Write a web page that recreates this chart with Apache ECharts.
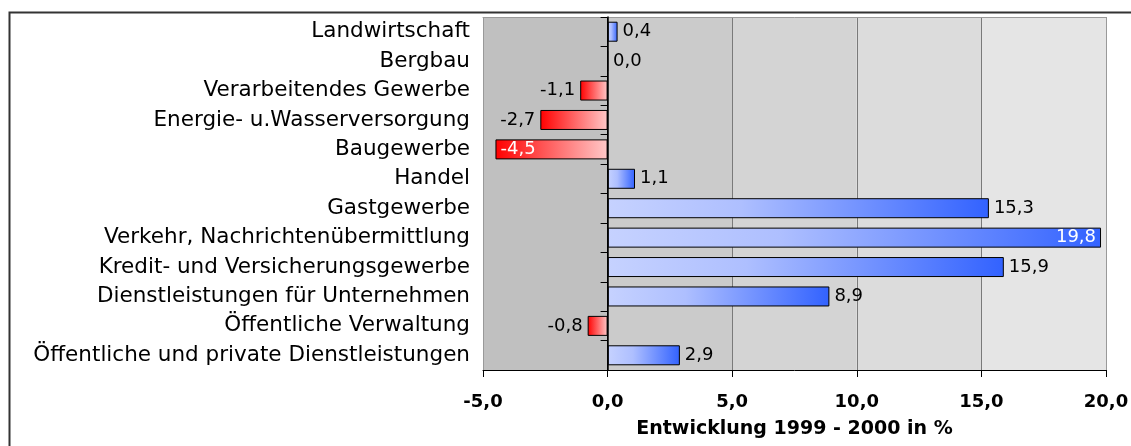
<!DOCTYPE html>
<html lang="de">
<head>
    <meta charset="UTF-8">
    <title>Entwicklung 1999 - 2000</title>
    <script src="https://cdn.jsdelivr.net/npm/echarts@6/dist/echarts.min.js"></script>
    <style>
        html, body { margin: 0; padding: 0; background: #fff; }
        #chart { width: 1131px; height: 446px; }
    </style>
</head>
<body>
<div id="chart"></div>
<script>
    // Branchen von oben nach unten
    var branchen = [
        "Landwirtschaft",
        "Bergbau",
        "Verarbeitendes Gewerbe",
        "Energie- u.Wasserversorgung",
        "Baugewerbe",
        "Handel",
        "Gastgewerbe",
        "Verkehr, Nachrichtenübermittlung",
        "Kredit- und Versicherungsgewerbe",
        "Dienstleistungen für Unternehmen",
        "Öffentliche Verwaltung",
        "Öffentliche und private Dienstleistungen"
    ];
    var werte = [0.4, 0.0, -1.1, -2.7, -4.5, 1.1, 15.3, 19.8, 15.9, 8.9, -0.8, 2.9];

    var achseMin = -5;
    var achseMax = 20;
    var achseSchritt = 5;

    function komma(v) {
        return Number(v).toFixed(1).replace('.', ',');
    }

    // graue Bänder, links dunkler
    var bandFarben = ['#c0c0c0', '#cbcbcb', '#d4d4d4', '#dcdcdc', '#e5e5e5'];
    var baender = [];
    for (var i = 0, b = achseMin; b < achseMax; b += achseSchritt, i++) {
        baender.push([
            { xAxis: b, itemStyle: { color: bandFarben[i], opacity: 1 } },
            { xAxis: b + achseSchritt }
        ]);
    }

    var blau = new echarts.graphic.LinearGradient(0, 0, 1, 0, [
        { offset: 0, color: '#c6d2ff' },
        { offset: 0.35, color: '#aebfff' },
        { offset: 1, color: '#3262ff' }
    ]);
    var rot = new echarts.graphic.LinearGradient(0, 0, 1, 0, [
        { offset: 0, color: '#ff0000' },
        { offset: 1, color: '#ffc8c8' }
    ]);

    var balken = werte.map(function (v) {
        var innen = v >= achseMax - 1 || v <= achseMin + 1;
        var pos = v < 0 ? (innen ? 'insideLeft' : 'left') : (innen ? 'insideRight' : 'right');
        return {
            value: v,
            itemStyle: { color: v < 0 ? rot : blau },
            label: { position: pos, color: innen ? '#fff' : '#000' }
        };
    });

    var chart = echarts.init(document.getElementById('chart'));
    var option = {
        animation: false,
        graphic: [{
            type: 'rect',
            left: 7, top: 10,
            shape: { width: 1400, height: 600 },
            style: { fill: 'none', stroke: '#333', lineWidth: 2 },
            z: 10
        }],
        grid: { left: 483, right: 25, top: 17, bottom: 76, outerBoundsMode: 'none', containLabel: false },
        xAxis: [{
            type: 'value',
            min: achseMin,
            max: achseMax,
            interval: achseSchritt,
            position: 'bottom',
            z: 1.5,
            name: 'Entwicklung 1999 - 2000 in %',
            nameLocation: 'middle',
            nameGap: 50,
            nameTextStyle: { color: '#000', fontSize: 19, fontWeight: 'bold', fontFamily: 'DejaVu Sans' },
            axisLine: { show: true, lineStyle: { color: '#000', width: 1 } },
            axisTick: { show: true, length: 7, lineStyle: { color: '#000' } },
            axisLabel: {
                margin: 23,
                color: '#000',
                fontSize: 18,
                fontWeight: 'bold',
                fontFamily: 'DejaVu Sans',
                formatter: komma
            },
            splitLine: {
                show: true,
                lineStyle: { color: ['#999', '#000', '#7a7a7a', '#7a7a7a', '#7a7a7a', '#999'], width: 1 }
            }
        }, {
            type: 'value',
            min: achseMin,
            max: achseMax,
            position: 'top',
            z: 1.5,
            axisLine: { show: true, lineStyle: { color: '#999' } },
            axisTick: { show: false },
            axisLabel: { show: false },
            splitLine: { show: false }
        }],
        yAxis: {
            type: 'category',
            data: branchen,
            inverse: true,
            z: 3,
            axisLine: { show: true, onZero: true, lineStyle: { color: '#000', width: 1.5 } },
            axisTick: { show: true, length: 7, lineStyle: { color: '#000' } },
            axisLabel: {
                margin: 13,
                color: '#000',
                fontSize: 21.5,
                fontFamily: 'DejaVu Sans'
            }
        },
        series: [{
            // Hintergrundbänder
            type: 'line',
            data: branchen.map(function () { return null; }),
            z: 1,
            silent: true,
            showSymbol: false,
            markArea: { silent: true, label: { show: false }, data: baender }
        }, {
            type: 'bar',
            data: balken,
            z: 2,
            barWidth: 20,
            itemStyle: { borderColor: '#000', borderWidth: 1 },
            label: {
                show: true,
                distance: 5,
                fontSize: 18,
                fontFamily: 'DejaVu Sans',
                formatter: function (p) { return komma(p.value); }
            }
        }]
    };
    chart.setOption(option);
</script>
</body>
</html>
